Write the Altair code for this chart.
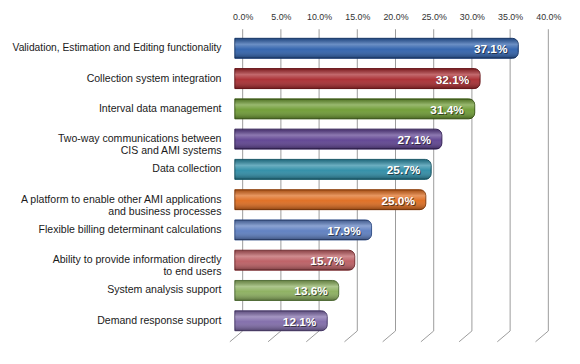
import altair as alt
import pandas as pd

categories = [
    "Validation, Estimation and Editing functionality",
    "Collection system integration",
    "Interval data management",
    "Two-way communications between|CIS and AMI systems",
    "Data collection",
    "A platform to enable other AMI applications|and business processes",
    "Flexible billing determinant calculations",
    "Ability to provide information directly|to end users",
    "System analysis support",
    "Demand response support",
]
values = [37.1, 32.1, 31.4, 27.1, 25.7, 25.0, 17.9, 15.7, 13.6, 12.1]
fill_colors = ["#2c5fab", "#a8282d", "#6c9a31", "#5c3f8f", "#2b8ba5",
               "#de6a1c", "#5a7cbf", "#bb5b60", "#8aae5c", "#7e69a8"]
edge_colors = ["#173a70", "#6a1317", "#3f5e17", "#35215a", "#155768",
               "#8e3f0b", "#34508a", "#7d3034", "#55733a", "#4e3f72"]
tick_values = [0, 5, 10, 15, 20, 25, 30, 35, 40]

df = pd.DataFrame({"cat": categories, "value": values})
ticks = pd.DataFrame({"t": tick_values})

W, H = 310, 307
FONT = "Liberation Sans"

x_scale = alt.Scale(domain=[0, 40], nice=False, zero=True)
x_axis = alt.Axis(orient="top", values=tick_values, tickCount=9, title=None,
                  labelExpr="format(datum.value, '.1f') + '%'", grid=False,
                  ticks=False, domain=False, labelPadding=12, tickOffset=8,
                  labelFlush=False, labelOverlap=False, labelSeparation=0,
                  labelFontSize=9, labelFont=FONT, labelColor="#333333")
y_axis = alt.Axis(title=None, labelExpr="split(datum.label, '|')", ticks=False,
                  domain=False, labelPadding=14,
                  labelFontSize=alt.ConditionalAxisNumber(
                      condition={"test": "datum.value == '" + categories[0] + "'",
                                 "value": 10.4},
                      value=10.7),
                  labelFont=FONT, labelColor="#1a1a1a", labelLineHeight=12.5,
                  labelLimit=260)
y_scale = alt.Scale(domain=categories, paddingInner=0.34, paddingOuter=0.17)

y_enc = alt.Y("cat:N", sort=categories, scale=y_scale, axis=y_axis)
x_enc = alt.X("value:Q", scale=x_scale, axis=x_axis)

grid = alt.Chart(ticks).mark_rule(color="#9a9a9a", strokeWidth=1, xOffset=8).encode(
    x=alt.X("t:Q", scale=x_scale, axis=x_axis),
    y=alt.value(-4), y2=alt.value(H - 5),
)
diag = alt.Chart(ticks).mark_rule(color="#9a9a9a", strokeWidth=1, xOffset=8, x2Offset=-5).encode(
    x=alt.X("t:Q", scale=x_scale, axis=x_axis), x2="t:Q",
    y=alt.value(H - 5), y2=alt.value(H + 6),
)

bars = alt.Chart(df).mark_bar(cornerRadiusEnd=6, strokeWidth=1).encode(
    x=x_enc,
    y=y_enc,
    fill=alt.Fill("cat:N", scale=alt.Scale(domain=categories, range=fill_colors), legend=None),
    stroke=alt.Stroke("cat:N", scale=alt.Scale(domain=categories, range=edge_colors), legend=None),
)
shine = alt.Chart(df).mark_bar(
    cornerRadiusEnd=6,
    color=alt.Gradient(
        gradient="linear", x1=0, x2=0, y1=0, y2=1,
        stops=[
            alt.GradientStop(offset=0, color="rgba(0,0,0,0.25)"),
            alt.GradientStop(offset=0.3, color="rgba(255,255,255,0.30)"),
            alt.GradientStop(offset=0.55, color="rgba(255,255,255,0.05)"),
            alt.GradientStop(offset=1, color="rgba(0,0,0,0.35)"),
        ],
    ),
).encode(x=x_enc, y=y_enc)

shadow = alt.Chart(df).transform_calculate(
    lbl="format(datum.value, '.1f') + '%'"
).mark_text(align="right", baseline="middle", dx=-10, dy=2,
            fontSize=12, fontWeight="bold", font=FONT,
            color="#111111", opacity=0.6).encode(
    x=x_enc, y=y_enc, text="lbl:N",
)
labels = alt.Chart(df).transform_calculate(
    lbl="format(datum.value, '.1f') + '%'"
).mark_text(align="right", baseline="middle", dx=-11, dy=1,
            fontSize=12, fontWeight="bold", font=FONT,
            color="white").encode(
    x=x_enc, y=y_enc, text="lbl:N",
)

chart = alt.layer(grid, diag, bars, shine, shadow, labels).properties(
    width=W, height=H,
    autosize=alt.AutoSizeParams(type="none"),
    padding={"left": 230, "top": 23, "right": 32, "bottom": 26},
    background="white",
).configure_view(stroke=None).configure_axis(labelOverlap=False)

chart.save("out.html", embed_options={"renderer": "svg", "actions": False})
